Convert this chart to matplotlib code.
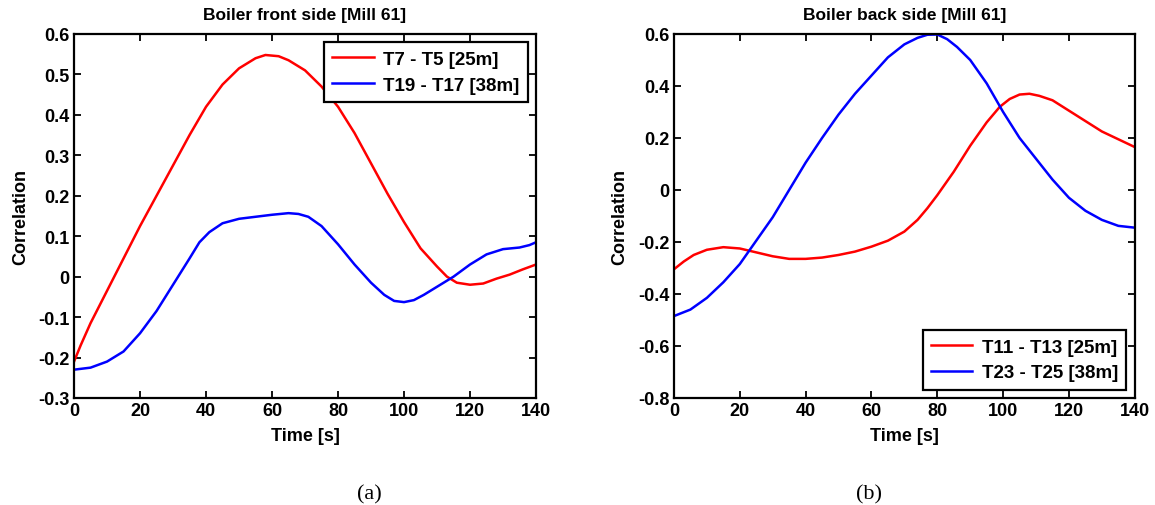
import matplotlib
matplotlib.use("Agg")
from matplotlib import pyplot as plt

plt.rcParams['font.family'] = ['Liberation Sans', 'DejaVu Sans']
plt.rcParams['font.weight'] = 'bold'

# front side [Mill 61]
t_a1 = [0, 2, 5, 10, 15, 20, 25, 30, 35, 40, 45, 50, 55, 58, 62, 65, 70, 75, 80,
        85, 90, 95, 100, 105, 110, 113, 116, 120, 124, 128, 132, 136, 140]
t7_t5 = [-0.21, -0.17, -0.115, -0.035, 0.045, 0.125, 0.2, 0.275, 0.35, 0.42,
         0.475, 0.515, 0.54, 0.548, 0.545, 0.535, 0.51, 0.47, 0.42, 0.355, 0.28,
         0.205, 0.135, 0.07, 0.025, 0.0, -0.015, -0.02, -0.017, -0.005, 0.005,
         0.018, 0.03]

t_a2 = [0, 5, 10, 15, 20, 25, 30, 35, 38, 41, 45, 50, 55, 60, 65, 68, 71, 75, 80,
        85, 90, 94, 97, 100, 103, 106, 110, 115, 120, 125, 130, 135, 138, 140]
t19_t17 = [-0.23, -0.225, -0.21, -0.185, -0.14, -0.085, -0.02, 0.045, 0.085, 0.11,
           0.132, 0.143, 0.148, 0.153, 0.157, 0.155, 0.148, 0.125, 0.08, 0.03,
           -0.015, -0.045, -0.06, -0.063, -0.058, -0.045, -0.025, 0.0, 0.03,
           0.055, 0.068, 0.072, 0.078, 0.085]

# back side [Mill 61]
t_b1 = [0, 3, 6, 10, 15, 20, 25, 30, 35, 40, 45, 50, 55, 60, 65, 70, 74, 77, 80,
        85, 90, 95, 99, 102, 105, 108, 111, 115, 120, 125, 130, 135, 140]
t11_t13 = [-0.305, -0.275, -0.25, -0.23, -0.22, -0.225, -0.24, -0.255, -0.265,
           -0.265, -0.26, -0.25, -0.237, -0.218, -0.195, -0.16, -0.115, -0.07,
           -0.02, 0.07, 0.17, 0.26, 0.32, 0.35, 0.367, 0.37, 0.362, 0.345, 0.305,
           0.265, 0.225, 0.195, 0.165]

t_b2 = [0, 5, 10, 15, 20, 25, 30, 35, 40, 45, 50, 55, 60, 65, 70, 74, 77, 80, 83,
        86, 90, 95, 100, 105, 110, 115, 120, 125, 130, 135, 140]
t23_t25 = [-0.485, -0.46, -0.415, -0.355, -0.285, -0.195, -0.105, 0.0, 0.105, 0.2,
           0.29, 0.37, 0.44, 0.51, 0.56, 0.585, 0.597, 0.598, 0.58, 0.55, 0.5,
           0.41, 0.3, 0.2, 0.12, 0.04, -0.03, -0.08, -0.115, -0.138, -0.145]

yt_a = [-0.3, -0.2, -0.1, 0, 0.1, 0.2, 0.3, 0.4, 0.5, 0.6]
ylab_a = ["-0.3", "-0.2", "-0.1", "0", "0.1", "0.2", "0.3", "0.4", "0.5", "0.6"]
yt_b = [-0.8, -0.6, -0.4, -0.2, 0, 0.2, 0.4, 0.6]
ylab_b = ["-0.8", "-0.6", "-0.4", "-0.2", "0", "0.2", "0.4", "0.6"]


def style_axes(ax, yticks, ylabels, title):
    ax.set_xlim(0, 140)
    ax.set_xticks(range(0, 141, 20))
    ax.set_ylim(yticks[0], yticks[-1])
    ax.set_yticks(yticks)
    ax.set_yticklabels(ylabels)
    ax.tick_params(direction='in', top=True, right=True, length=5, width=1.3,
                   labelsize=13, pad=3)
    for lab in ax.get_xticklabels() + ax.get_yticklabels():
        lab.set_fontweight('bold')
    for s in ax.spines.values():
        s.set_linewidth(1.6)
    ax.set_xlabel("Time [s]", fontsize=13, fontweight='bold', labelpad=6)
    ax.set_ylabel("Correlation", fontsize=13, fontweight='bold', labelpad=7)
    ax.set_title(title, fontsize=12.5, fontweight='bold', pad=11)


def add_legend(ax, loc):
    leg = ax.legend(loc=loc, fancybox=False, edgecolor='black',
                    prop={'weight': 'bold', 'size': 13.5}, handlelength=2.2,
                    handletextpad=0.5, borderaxespad=0.45, borderpad=0.45,
                    labelspacing=0.45, framealpha=1)
    leg.get_frame().set_linewidth(1.6)


fig = plt.figure(figsize=(11.55, 5.06), dpi=100)
ax1 = fig.add_axes([0.0641, 0.2115, 0.4, 0.7194])
ax2 = fig.add_axes([0.5835, 0.2115, 0.399, 0.7194])

ax1.plot(t_a1, t7_t5, color='red', lw=1.8, label="T7 - T5 [25m]")
ax1.plot(t_a2, t19_t17, color='blue', lw=1.8, label="T19 - T17 [38m]")
style_axes(ax1, yt_a, ylab_a, "Boiler front side [Mill 61]")
add_legend(ax1, 'upper right')

ax2.plot(t_b1, t11_t13, color='red', lw=1.8, label="T11 - T13 [25m]")
ax2.plot(t_b2, t23_t25, color='blue', lw=1.8, label="T23 - T25 [38m]")
style_axes(ax2, yt_b, ylab_b, "Boiler back side [Mill 61]")
add_legend(ax2, 'lower right')

fig.text(0.3195, 0.013, "(a)", fontsize=16, family='Liberation Serif', weight='normal', ha='center')
fig.text(0.7524, 0.013, "(b)", fontsize=16, family='Liberation Serif', weight='normal', ha='center')

fig.savefig("out.png", dpi=100)
